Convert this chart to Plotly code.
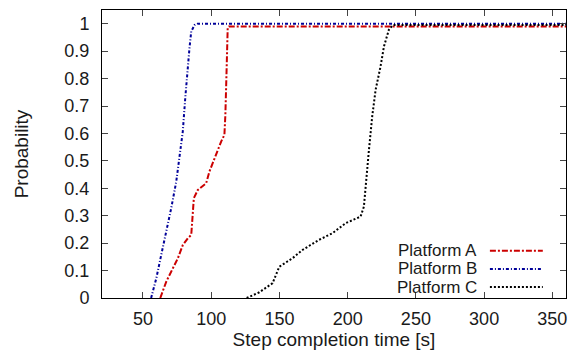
import plotly.graph_objects as go

# Platform A (red)
t_a = [62.7, 67.1, 71.9, 75.6, 79.2, 82.9, 85.4, 86.5, 87.3, 90.2, 96.3, 98.7, 102.4, 107.3, 109.7, 110.4, 111.4, 112.1, 113.0, 360]
p_a = [0.0, 0.06, 0.108, 0.145, 0.193, 0.218, 0.23, 0.303, 0.364, 0.394, 0.418, 0.461, 0.51, 0.57, 0.595, 0.668, 0.85, 0.984, 0.99, 0.99]

# Platform B (blue)
t_b = [56.0, 59.8, 63.4, 67.1, 70.7, 74.4, 76.8, 79.2, 81.0, 82.4, 84.1, 85.4, 87.8, 90.0, 360]
p_b = [0.0, 0.072, 0.157, 0.242, 0.327, 0.424, 0.51, 0.607, 0.729, 0.826, 0.911, 0.972, 0.995, 1.0, 1.0]

# Platform C (black)
t_c = [126.0, 135.0, 145.0, 149.9, 159.6, 166.9, 179.0, 188.8, 198.6, 209.5, 211.9, 213.2, 215.6, 218.0, 220.5, 224.1, 226.6, 230.2, 233.1, 360]
p_c = [0.0, 0.02, 0.054, 0.114, 0.145, 0.175, 0.212, 0.236, 0.273, 0.297, 0.333, 0.418, 0.54, 0.662, 0.759, 0.844, 0.917, 0.978, 0.995, 0.995]

names = ["Platform A", "Platform B", "Platform C"]
colors = ["#cc0000", "#000099", "#000000"]
dashes = ["6px,2px,2px,2px", "3px,2px,1px,2px", "2px,2px"]

x_ticks = [50, 100, 150, 200, 250, 300, 350]
y_ticks = [0, 0.1, 0.2, 0.3, 0.4, 0.5, 0.6, 0.7, 0.8, 0.9, 1]

FONT = "Liberation Sans"
TXT = "#1a1a1a"

fig = go.Figure()
for t, p, n, c, d in zip([t_a, t_b, t_c], [p_a, p_b, p_c], names, colors, dashes):
    fig.add_trace(go.Scatter(x=t, y=p, mode="lines", name=n,
                             line=dict(color=c, width=2, dash=d), showlegend=False))

# gnuplot-style legend: text right-aligned, sample to the right
leg_y = [0.164, 0.101, 0.038]
for n, c, d, yy in zip(names, colors, dashes, leg_y):
    fig.add_annotation(x=0.810, y=yy, xref="paper", yref="paper", text=n,
                       showarrow=False, xanchor="right", yanchor="middle",
                       height=17, valign="middle", borderpad=0,
                       font=dict(family=FONT, size=17, color=TXT))
    fig.add_shape(type="line", xref="paper", yref="paper", x0=0.836, x1=0.950,
                  y0=yy, y1=yy, line=dict(color=c, width=2, dash=d))

fig.update_layout(
    width=572, height=354,
    margin=dict(l=102, r=6, t=10, b=56),
    paper_bgcolor="white", plot_bgcolor="white",
    font=dict(family=FONT, size=18, color=TXT),
    xaxis=dict(range=[20, 360], tickvals=x_ticks, ticks="inside", ticklen=6,
               ticklabelstandoff=4,
               showline=True, linecolor="black", linewidth=1, mirror="allticks",
               showgrid=False, zeroline=False,
               title=dict(text="Step completion time [s]", standoff=4,
                          font=dict(size=19))),
    yaxis=dict(range=[0, 1.05], tickvals=y_ticks, ticks="inside", ticklen=6,
               ticklabelstandoff=8,
               showline=True, linecolor="black", linewidth=1, mirror="allticks",
               showgrid=False, zeroline=False,
               title=dict(text="Probability", standoff=30, font=dict(size=19))),
)

fig.write_html("out.html")
